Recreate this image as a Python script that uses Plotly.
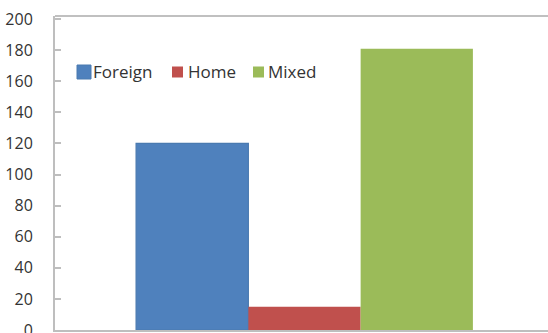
import plotly.graph_objects as go

# Single category with three grouped series
categories = [""]
series_names = ["Foreign", "Home", "Mixed"]
foreign = [120]
home = [15]
mixed = [181]

colors = {"Foreign": "#4F81BD", "Home": "#C0504D", "Mixed": "#9BBB59"}
values = {"Foreign": foreign, "Home": home, "Mixed": mixed}

W, H = 548, 333
ML, MR, MT, MB = 55, 0, 16, 3
PW, PH = W - ML - MR, H - MT - MB
axis_color = "#BEBEBE"
frame_color = "#C0C0C0"


def fx(px):
    """Pixel column -> paper fraction of the plot area."""
    return (px - ML) / PW


def fy(py):
    """Pixel row -> paper fraction of the plot area."""
    return (H - MB - py) / PH


fig = go.Figure()
for name in series_names:
    line = dict(width=1.2, color="#4A7AB0") if name == "Foreign" else dict(width=0)
    fig.add_trace(go.Bar(
        x=categories, y=values[name], name=name, showlegend=False,
        marker=dict(color=colors[name], line=line),
    ))

# Top border of the plot area
fig.add_shape(
    type="line", xref="paper", yref="paper", x0=0, x1=1, y0=1, y1=1,
    line=dict(color=frame_color, width=2),
)

# Legend row inside the plot: swatch + label per series
legend_y = 72
swatch_left = {"Foreign": 77, "Home": 172, "Mixed": 253}
swatch_size = {"Foreign": 14, "Home": 11, "Mixed": 11}
label_left = {"Foreign": 91, "Home": 186, "Mixed": 266}
for name in series_names:
    s = swatch_size[name]
    x0 = swatch_left[name]
    fig.add_shape(
        type="rect", xref="paper", yref="paper",
        x0=fx(x0), x1=fx(x0 + s), y0=fy(legend_y + s / 2), y1=fy(legend_y - s / 2),
        fillcolor=colors[name],
        line=dict(width=1 if name == "Foreign" else 0, color="#4A7AB0"),
    )
    fig.add_annotation(
        x=fx(label_left[name]), y=fy(legend_y), xref="paper", yref="paper",
        text=name, showarrow=False, xanchor="left", yanchor="middle",
        font=dict(size=17, color="#333333"),
    )

# Keep the right edge of the plot area open
fig.add_shape(
    type="line", xref="paper", yref="paper", x0=1, x1=1, y0=0.004, y1=0.996,
    line=dict(color="white", width=3), layer="above",
)

fig.update_layout(
    width=W, height=H,
    margin=dict(l=ML, r=MR, t=MT, b=MB, autoexpand=False),
    paper_bgcolor="white", plot_bgcolor="white",
    barmode="group", bargap=0.325, bargroupgap=0,
    font=dict(family="Open Sans, Noto Sans, sans-serif", size=16, color="#333333"),
    showlegend=False,
    xaxis=dict(
        type="category", range=[-0.5, 0.488], showticklabels=False,
        showline=True, linecolor=axis_color, linewidth=2, mirror=False,
        ticks="", showgrid=False, zeroline=False, automargin=False,
    ),
    yaxis=dict(
        range=[0, 202], tickvals=list(range(0, 201, 20)),
        showline=True, linecolor=axis_color, linewidth=2, mirror=False,
        ticks="inside", ticklen=6, tickwidth=2, tickcolor=axis_color,
        ticklabelstandoff=17, ticklabeloverflow="allow", automargin=False,
        showgrid=False, zeroline=False,
        tickfont=dict(size=16, color="#333333"),
    ),
)

fig.write_html("out.html", config={"displayModeBar": False})
